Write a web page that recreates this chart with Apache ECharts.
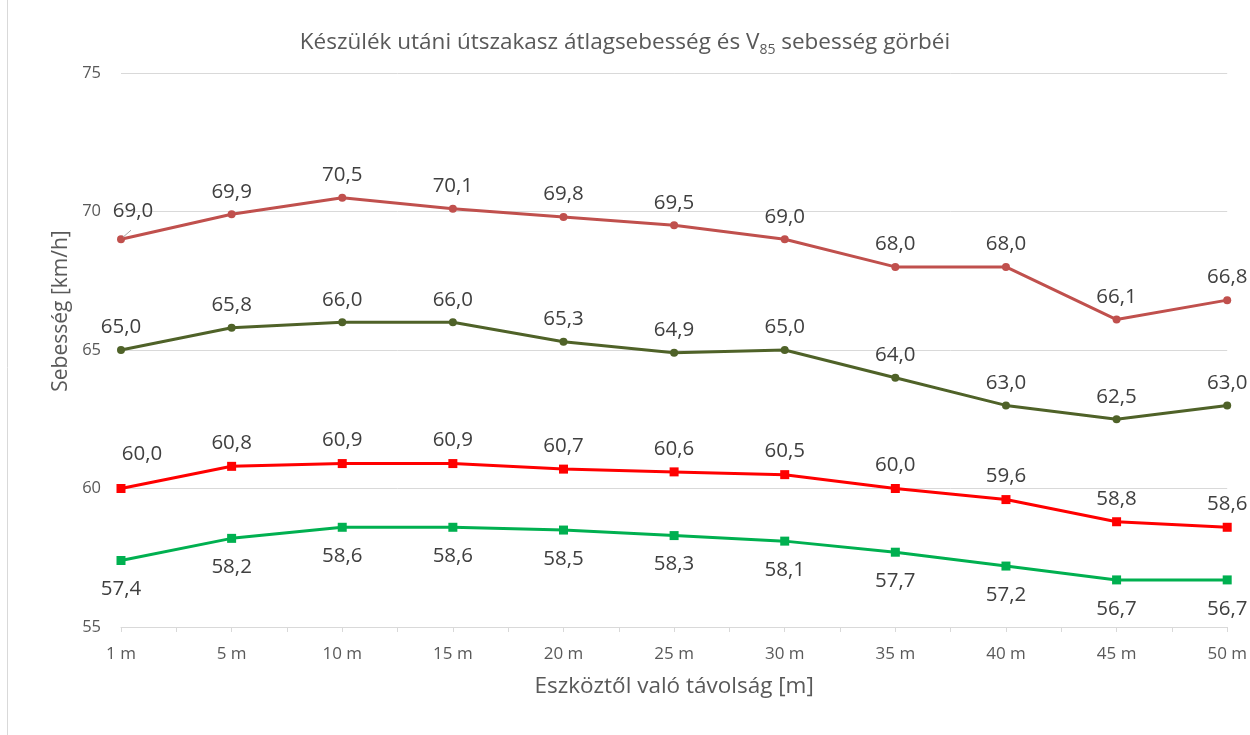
<!DOCTYPE html>
<html><head><meta charset="utf-8">
<script src="https://cdn.jsdelivr.net/npm/echarts@6/dist/echarts.min.js"></script>
<style>html,body{margin:0;padding:0;background:#fff}#c{width:1250px;height:735px}</style>
</head><body><div id="c"></div>
<script>
const categories = ['1 m','5 m','10 m','15 m','20 m','25 m','30 m','35 m','40 m','45 m','50 m'];
const v85Main = [69.0, 69.9, 70.5, 70.1, 69.8, 69.5, 69.0, 68.0, 68.0, 66.1, 66.8];
const avgMain = [65.0, 65.8, 66.0, 66.0, 65.3, 64.9, 65.0, 64.0, 63.0, 62.5, 63.0];
const v85Sec = [60.0, 60.8, 60.9, 60.9, 60.7, 60.6, 60.5, 60.0, 59.6, 58.8, 58.6];
const avgSec = [57.4, 58.2, 58.6, 58.6, 58.5, 58.3, 58.1, 57.7, 57.2, 56.7, 56.7];
const yTicks = [55, 60, 65, 70, 75];

const FONT = 'Open Sans';
function labelStyle(pos, dist) {
  return { show: true, position: pos, distance: dist,
    formatter: p => p.value.toFixed(1).replace('.', ','),
    color: '#404040', fontSize: 20.5, fontFamily: FONT };
}
function mk(name, data, color, symbol, size, pos, dist, firstLabel) {
  return {
    name, type: 'line', data: data.map((v, i) => (i === 0 && firstLabel) ? { value: v, label: firstLabel } : v),
    xAxisIndex: 0, yAxisIndex: 0,
    symbol, symbolSize: size, showSymbol: true,
    lineStyle: { color, width: 3 }, itemStyle: { color },
    label: labelStyle(pos, dist), emphasis: { disabled: true }, animation: false
  };
}
const chart = echarts.init(document.getElementById('c'));
chart.setOption({
  animation: false,
  title: {
    text: 'Készülék utáni útszakasz átlagsebesség és V{s|85} sebesség görbéi',
    left: 'center', top: 24,
    textStyle: { fontFamily: FONT, fontSize: 22.5, fontWeight: 'normal', color: '#595959',
      rich: { s: { fontFamily: FONT, fontSize: 14, color: '#595959', padding: [14, 0, 0, 0] } } }
  },
  grid: { left: 121, right: 22, top: 73, bottom: 108, containLabel: false },
  xAxis: [{
    type: 'category', data: categories, boundaryGap: false,
    axisLine: { lineStyle: { color: '#d9d9d9', width: 1 } },
    axisTick: { show: false },
    axisLabel: { color: '#595959', fontSize: 17, fontFamily: FONT, margin: 19 },
    name: 'Eszköztől való távolság [m]', nameLocation: 'middle', nameGap: 48,
    nameTextStyle: { color: '#595959', fontSize: 22.5, fontFamily: FONT }
  }, {
    type: 'value', min: 0, max: 20, interval: 1, position: 'bottom',
    axisLine: { show: false }, axisLabel: { show: false }, splitLine: { show: false },
    axisTick: { show: true, length: 5, lineStyle: { color: '#d9d9d9' } }
  }],
  yAxis: {
    type: 'value', min: 55, max: 75, interval: 5,
    axisLine: { show: false }, axisTick: { show: false },
    splitLine: { lineStyle: { color: '#d9d9d9', width: 1 } },
    axisLabel: { color: '#595959', fontSize: 16.5, fontFamily: FONT, margin: 20,
      formatter: v => yTicks.includes(v) ? String(v) : '' },
    name: 'Sebesség [km/h]', nameLocation: 'middle', nameGap: 43, nameRotate: 90,
    nameTextStyle: { color: '#595959', fontSize: 21, fontFamily: FONT, padding: [0, 0, 0, 78] }
  },
  series: [
    mk('V85 (készülék előtt)', v85Main, '#C0504D', 'circle', 8, 'top', 8, { offset: [12, -6] }),
    mk('Átlagsebesség (készülék előtt)', avgMain, '#4F6228', 'circle', 8, 'top', 8, null),
    mk('V85', v85Sec, '#FF0000', 'rect', 9, 'top', 8, { offset: [21, -11] }),
    mk('Átlagsebesség', avgSec, '#00B050', 'rect', 9, 'bottom', 14, null)
  ]
});
// small leader line for the shifted first label of the upper series
const p0 = chart.convertToPixel({ xAxisIndex: 0, yAxisIndex: 0 }, [categories[0], v85Main[0]]);
chart.setOption({ graphic: [
  { type: 'line', shape: { x1: 7.5, y1: 0, x2: 7.5, y2: 735 }, style: { stroke: '#d9d9d9', lineWidth: 1 } },
  { type: 'line', shape: { x1: p0[0] + 2, y1: p0[1] - 2, x2: p0[0] + 10, y2: p0[1] - 9 }, style: { stroke: '#a6a6a6', lineWidth: 1 }, z: 10 }
] });
</script></body></html>
